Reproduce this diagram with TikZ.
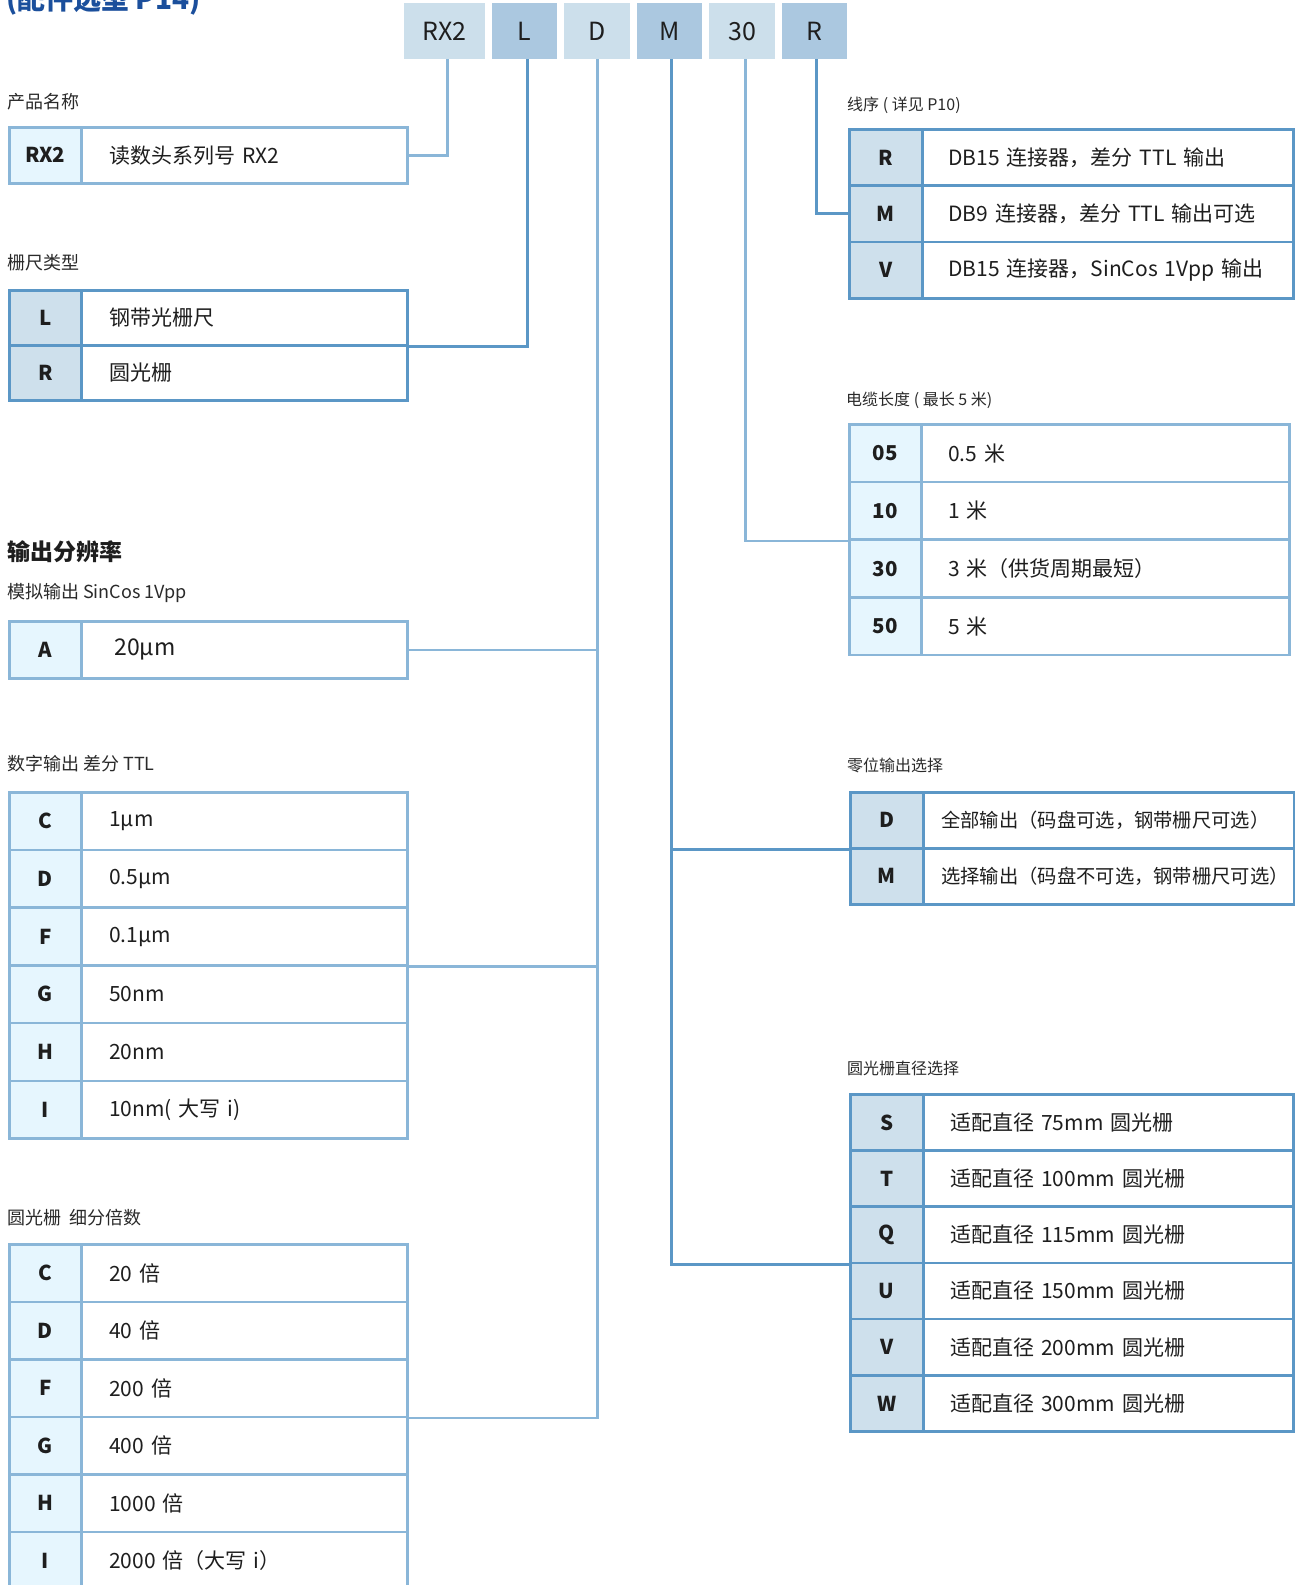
\documentclass[tikz,border=0pt]{standalone}
\usepackage{fontspec}
\setmainfont{Noto Sans CJK SC}
\usetikzlibrary{calc}
\definecolor{ltfill}{HTML}{E6F6FE}
\definecolor{ltline}{HTML}{8AB6D8}
\definecolor{dkfill}{HTML}{CEE0EC}
\definecolor{dkline}{HTML}{5B97C6}
\definecolor{toplt}{HTML}{CCDFEB}
\definecolor{topdk}{HTML}{ABC8E0}
\definecolor{txt}{HTML}{1E1E1E}
\definecolor{lbl}{HTML}{2A2A2A}
\definecolor{ttl}{HTML}{1B4F9C}
% #1 name, #2 style prefix, #3 x left, #4 y top, #5 row height, #6 x divider, #7 x right, #8 text inset, #9 rows
\newcommand\opttable[9]{%
  \pgfmathsetmacro\tcw{#6-#3}%
  \pgfmathsetmacro\ttw{#7-#6-2*#8}%
  \foreach \cd/\ds [count=\i] in {#9} {
    \node[#2code, minimum width=\tcw pt, minimum height=#5pt] (#1-\i-c) at (#3,{#4+(\i-1)*#5}) {\cd};
    \node[#2desc, minimum height=#5pt, text width=\ttw pt, inner xsep=#8pt] (#1-\i-d) at (#6,{#4+(\i-1)*#5}) {\ds};
  }}
\begin{document}
\begin{tikzpicture}[x=1pt,y=-1pt,
  cell/.style={draw, line width=2.6pt, anchor=north west, inner ysep=0pt, text=txt},
  codefont/.style={font=\fontsize{20.5pt}{24pt}\selectfont\bfseries},
  descfont/.style={font=\fontsize{21pt}{25pt}\selectfont},
  ltcode/.style={cell, draw=ltline, fill=ltfill, inner xsep=0pt, codefont},
  dkcode/.style={cell, draw=dkline, fill=dkfill, inner xsep=0pt, codefont},
  ltdesc/.style={cell, draw=ltline, fill=white, align=left, descfont},
  dkdesc/.style={cell, draw=dkline, fill=white, align=left, descfont},
  topbox/.style={anchor=north west, inner sep=0pt, minimum height=56pt, text=txt, font=\fontsize{25pt}{30pt}\selectfont},
  lfttitle/.style={anchor=west, inner sep=0pt, text=lbl, font=\fontsize{18pt}{22pt}\selectfont},
  rgttitle/.style={anchor=west, inner sep=0pt, text=lbl, font=\fontsize{16pt}{20pt}\selectfont},
  conlt/.style={draw=ltline, line width=2.6pt},
  condk/.style={draw=dkline, line width=2.6pt}]
\useasboundingbox (0,0) rectangle (1294,1585);
\fill[white] (0,0) rectangle (1294,1585);

% title (cut off at the top, as in the reference)
\node[anchor=base west, inner sep=0pt, text=ttl, font=\fontsize{28pt}{32pt}\selectfont\bfseries] (title) at (6,9) {(配件选型 P14)};

% code boxes on top
\node[topbox, fill=toplt, minimum width=81pt] (b1) at (404,3) {RX2};
\node[topbox, fill=topdk, minimum width=65pt] (b2) at (492,3) {L};
\node[topbox, fill=toplt, minimum width=66pt] (b3) at (564,3) {D};
\node[topbox, fill=topdk, minimum width=65pt] (b4) at (637,3) {M};
\node[topbox, fill=toplt, minimum width=66pt] (b5) at (709,3) {30};
\node[topbox, fill=topdk, minimum width=65pt] (b6) at (782,3) {R};
\coordinate (c1) at ($(b1.south)+(2.5,0)$);
\coordinate (c2) at ($(b2.south)+(2.5,0)$);
\coordinate (c3) at ($(b3.south)+(0.5,0)$);
\coordinate (c4) at ($(b4.south)+(1.5,0)$);
\coordinate (c5) at ($(b5.south)+(3,0)$);
\coordinate (c6) at ($(b6.south)+(1.5,0)$);

% section titles
\node[lfttitle] (t-rx) at (7,102) {产品名称};
\node[lfttitle] (t-lr) at (7,263) {栅尺类型};
\node[anchor=west, inner sep=0pt, text=txt, font=\fontsize{23pt}{27pt}\selectfont\bfseries] (t-res) at (7,552) {输出分辨率};
\node[lfttitle] (t-an) at (7,593) {模拟输出 SinCos 1Vpp};
\node[lfttitle] (t-dg) at (7,764) {数字输出 差分 TTL};
\node[lfttitle] (t-rs) at (7,1218) {圆光栅\ \ 细分倍数};
\node[rgttitle] (t-wr) at (847,105) {线序 ( 详见 P10)};
\node[rgttitle] (t-cb) at (846,400) {电缆长度 ( 最长 5 米)};
\node[rgttitle] (t-zr) at (847,765) {零位输出选择};
\node[rgttitle] (t-sd) at (847,1068) {圆光栅直径选择};

% tables, left
\opttable{rx}{lt}{8}{126}{56}{80}{406}{28}{RX2/读数头系列号 RX2}
\opttable{lr}{dk}{8}{289}{55}{80}{406}{28}{L/钢带光栅尺, R/圆光栅}
\begin{scope}[descfont/.style={font=\fontsize{23pt}{27pt}\selectfont}]
\opttable{an}{lt}{8}{620}{57}{80}{406}{33}{A/20μm}
\end{scope}
\opttable{dg}{lt}{8}{791}{57.7}{80}{406}{28}{C/1μm, D/0.5μm, F/0.1μm, G/50nm, H/20nm, I/{10nm( 大写 i)}}
\opttable{rs}{lt}{8}{1243}{57.5}{80}{406}{28}{C/20 倍, D/40 倍, F/200 倍, G/400 倍, H/1000 倍, I/{2000 倍（大写 i）}}

% tables, right
\opttable{wr}{dk}{848}{128}{56.3}{921}{1292}{26}{R/{DB15 连接器，差分 TTL 输出}, M/{DB9 连接器，差分 TTL 输出可选}, V/{DB15 连接器，SinCos 1Vpp 输出}}
\opttable{cb}{lt}{848}{423}{57.7}{920}{1288}{27}{05/0.5 米, 10/1 米, 30/{3 米（供货周期最短）}, 50/5 米}
\begin{scope}[descfont/.style={font=\fontsize{19.3pt}{23pt}\selectfont}]
\opttable{zr}{dk}{849}{791}{56}{922}{1293}{18}{D/{全部输出（码盘可选，钢带栅尺可选）}, M/{选择输出（码盘不可选，钢带栅尺可选）}}
\end{scope}
\opttable{sd}{dk}{849}{1093}{56.2}{922}{1292}{27}{S/适配直径 75mm 圆光栅, T/适配直径 100mm 圆光栅, Q/适配直径 115mm 圆光栅, U/适配直径 150mm 圆光栅, V/适配直径 200mm 圆光栅, W/适配直径 300mm 圆光栅}

% connectors
\draw[conlt] (c1) |- (rx-1-d.east);
\draw[condk] (c2) |- (lr-1-d.south east);
\draw[conlt] (c3) |- (rs-3-d.south east);
\draw[conlt] (an-1-d.east) -- (an-1-d.east -| c3);
\draw[conlt] (dg-3-d.south east) -- (dg-3-d.south east -| c3);
\draw[condk] (c4) |- (sd-3-c.south west);
\draw[condk] (zr-1-c.south west) -- (zr-1-c.south west -| c4);
\draw[conlt] (c5) |- (cb-2-c.south west);
\draw[condk] (c6) |- (wr-2-c.west);
\end{tikzpicture}
\end{document}
